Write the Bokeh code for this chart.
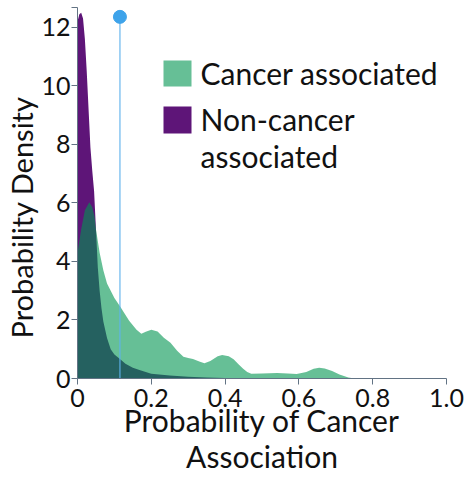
from bokeh.plotting import figure
from bokeh.models import Label, BoxAnnotation, FixedTicker, Range1d, Title
from bokeh.embed import file_html
from bokeh.resources import INLINE

# ---- data ----
x_non = [0, 0.005, 0.01, 0.015, 0.02, 0.025, 0.03, 0.035, 0.04, 0.045, 0.05, 0.055, 0.06,
         0.065, 0.07, 0.08, 0.09, 0.1, 0.115, 0.13, 0.15, 0.17, 0.2, 0.25, 0.3, 0.35, 0.4,
         0.5, 0.6, 0.7, 0.8, 1.0]
d_non = [12.2, 12.45, 12.5, 12.3, 11.6, 10.5, 9.2, 7.9, 7.1, 6.4, 5.1, 3.8, 3.0,
         2.4, 1.95, 1.38, 1.0, 0.82, 0.67, 0.5, 0.37, 0.28, 0.16, 0.1, 0.06, 0.035, 0.02,
         0.01, 0.005, 0.002, 0.0, 0.0]

x_can = [0, 0.01, 0.02, 0.032, 0.04, 0.046, 0.05, 0.06, 0.07, 0.08, 0.1, 0.116, 0.14, 0.16,
         0.173, 0.185, 0.2, 0.217, 0.234, 0.252, 0.27, 0.287, 0.3, 0.313, 0.33, 0.344, 0.36,
         0.38, 0.392, 0.41, 0.423, 0.437, 0.449, 0.46, 0.471, 0.5, 0.541, 0.57, 0.594, 0.62,
         0.64, 0.655, 0.67, 0.69, 0.71, 0.734, 0.75, 1.0]
d_can = [4.3, 5.1, 5.75, 6.02, 5.85, 5.55, 5.1, 4.3, 3.7, 3.25, 2.75, 2.45, 1.97, 1.67,
         1.53, 1.6, 1.67, 1.61, 1.39, 1.22, 0.95, 0.74, 0.7, 0.67, 0.58, 0.52, 0.6,
         0.76, 0.8, 0.76, 0.66, 0.48, 0.33, 0.22, 0.16, 0.17, 0.19, 0.17, 0.15, 0.22,
         0.33, 0.37, 0.34, 0.26, 0.14, 0.03, 0.0, 0.0]

threshold_x = 0.115
threshold_top = 12.36

x_ticks = [0, 0.2, 0.4, 0.6, 0.8, 1.0]
x_tick_labels = ["0", "0.2", "0.4", "0.6", "0.8", "1.0"]
y_ticks = [0, 2, 4, 6, 8, 10, 12]
y_tick_labels = ["0", "2", "4", "6", "8", "10", "12"]
y_max = 12.68

series_names = ["Cancer associated", "Non-cancer\nassociated"]
x_title = "Probability of Cancer\nAssociation"
y_title = "Probability Density"

# ---- style ----
FONT = "Lato"
GREEN = "#009450"
GREEN_ALPHA = 0.6
PURPLE = "#5e1578"
AXIS = "#627384"
W, H = 464, 476
ML, MR, MT, MB = 77, 18, 7, 96

p = figure(width=W, height=H, output_backend="svg", toolbar_location=None,
           title=None, x_range=Range1d(0, 1.0), y_range=Range1d(0, y_max),
           min_border_left=ML, min_border_right=MR, min_border_top=MT,
           min_border_bottom=MB)
p.outline_line_color = None
p.grid.visible = False
p.background_fill_color = "white"

p.varea(x=x_non, y1=0, y2=d_non, fill_color=PURPLE, fill_alpha=1.0)
p.varea(x=x_can, y1=0, y2=d_can, fill_color=GREEN, fill_alpha=GREEN_ALPHA)

p.segment(x0=[threshold_x], y0=[0], x1=[threshold_x], y1=[threshold_top],
          line_color="#5fb2ec", line_alpha=0.75, line_width=1.5)
p.scatter(x=[threshold_x], y=[threshold_top], size=13, marker="circle",
          fill_color="#3ea3ea", line_color="#3ea3ea")

for ax in (p.xaxis[0], p.yaxis[0]):
    ax.axis_line_color = AXIS
    ax.major_tick_line_color = AXIS
    ax.minor_tick_line_color = None
    ax.major_tick_in = 0
    ax.major_tick_out = 6
    ax.major_label_text_font = FONT
    ax.major_label_text_font_size = "25px"
    ax.major_label_text_color = "#111111"

p.xaxis[0].ticker = FixedTicker(ticks=x_ticks)
p.xaxis[0].major_label_overrides = {t: l for t, l in zip(x_ticks, x_tick_labels)}
p.xaxis[0].major_label_standoff = 4
p.xaxis[0].axis_label = x_title
p.xaxis[0].axis_label_text_font = FONT
p.xaxis[0].axis_label_text_font_size = "30px"
p.xaxis[0].axis_label_text_font_style = "normal"
p.xaxis[0].axis_label_text_color = "#111111"
p.xaxis[0].axis_label_text_line_height = 1.0
p.xaxis[0].axis_label_standoff = -8

p.yaxis[0].ticker = FixedTicker(ticks=y_ticks + [y_max])
ov = {t: l for t, l in zip(y_ticks, y_tick_labels)}
ov[y_max] = ""
p.yaxis[0].major_label_overrides = ov
p.yaxis[0].major_label_standoff = 1

p.add_layout(Title(text=y_title, align="left", offset=40, standoff=0,
                   text_font=FONT, text_font_size="29px", text_font_style="normal",
                   text_color="#111111"), "left")

# legend (screen units, relative to the frame)
p.add_layout(BoxAnnotation(left=86, right=114, top=318, bottom=292,
                           left_units="screen", right_units="screen",
                           top_units="screen", bottom_units="screen",
                           fill_color=GREEN, fill_alpha=GREEN_ALPHA, line_color=None))
p.add_layout(BoxAnnotation(left=86, right=114, top=272, bottom=245,
                           left_units="screen", right_units="screen",
                           top_units="screen", bottom_units="screen",
                           fill_color=PURPLE, fill_alpha=1.0, line_color=None))
legend_lines = [series_names[0]] + series_names[1].split("\n")
for txt, yb in zip(legend_lines, [305.4, 259.4, 222.4]):
    p.add_layout(Label(x=123, y=yb, x_units="screen", y_units="screen", text=txt,
                       text_align="left", text_baseline="middle",
                       text_font=FONT, text_font_size="30px", text_color="#111111"))

open("out.html", "w").write(file_html(p, INLINE))
